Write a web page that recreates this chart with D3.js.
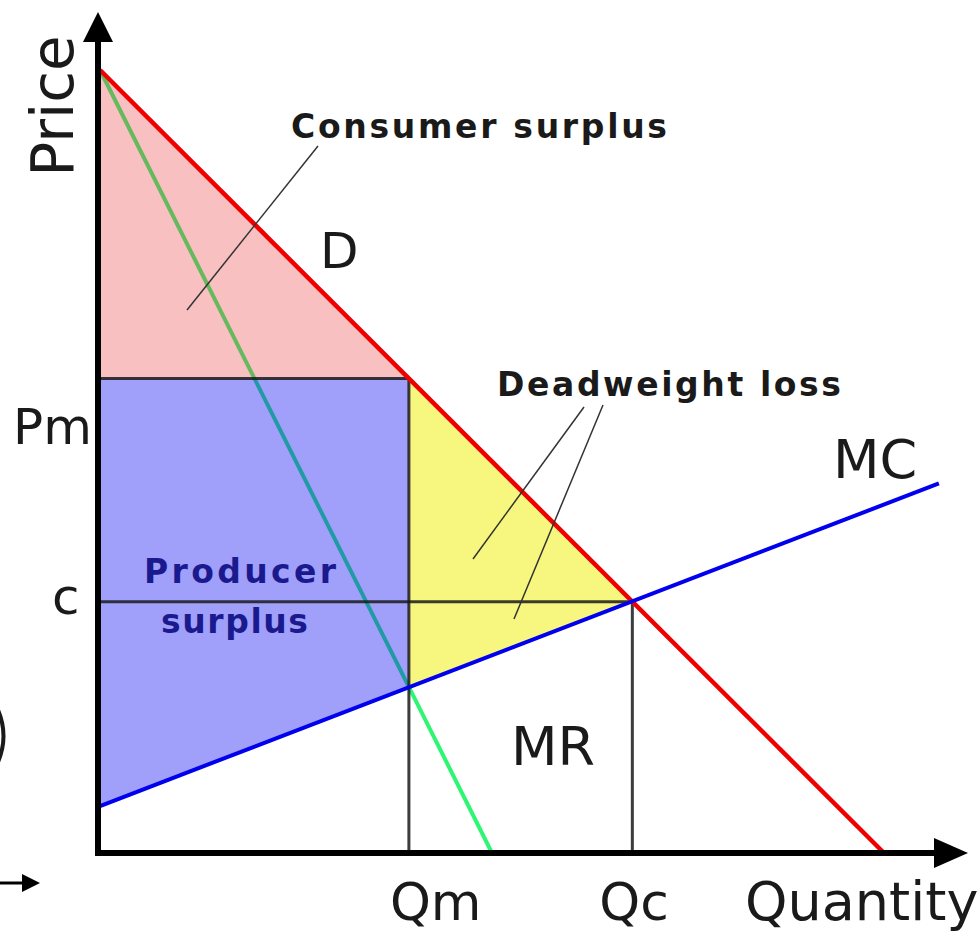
<!DOCTYPE html>
<html>
<head>
<meta charset="utf-8">
<script src="https://cdn.jsdelivr.net/npm/d3@7"></script>
<style>
  html, body { margin: 0; padding: 0; background: #fff; overflow: hidden; }
  svg { display: block; }
  text { font-family: "DejaVu Sans", Verdana, sans-serif; fill: #1a1a1a; }
</style>
</head>
<body>
<div id="chart"></div>
<script>
// curves as [quantity, price] end points
var demand = [[0, 10], [10, 0]];
var marginalRevenue = [[0, 10], [5, 0]];
var marginalCost = [[0, 0.6], [10.7, 4.72]];

// equilibrium values
var qm = 3.94, qc = 6.79;
var pm = 6.06, pc = 3.21;
var mcAtQm = 2.12;

var consumerSurplus = [[0, 10], [qm, pm], [0, pm]];
var producerSurplus = [[0, pm], [qm, pm], [qm, mcAtQm], [0, 0.6]];
var deadweightLoss = [[qm, pm], [qc, pc], [qm, mcAtQm]];

var width = 978, height = 934;

var svg = d3.select("#chart").append("svg")
  .attr("width", width)
  .attr("height", height);

var x = d3.scaleLinear().domain([0, 10]).range([100, 884]);
var y = d3.scaleLinear().domain([0, 10]).range([853, 70]);

var line = d3.line()
  .x(function(d){ return x(d[0]); })
  .y(function(d){ return y(d[1]); });

function poly(data, color, op){
  svg.append("path")
    .attr("d", line(data) + "Z")
    .attr("fill", color)
    .attr("fill-opacity", op)
    .attr("stroke", "none");
}

function curve(data, color, w){
  svg.append("path")
    .attr("d", line(data))
    .attr("fill", "none")
    .attr("stroke", color)
    .attr("stroke-width", w);
}

// MR goes under the shaded areas so it picks up their tint
curve(marginalRevenue, "#2ef572", 4);

poly(consumerSurplus, "#e82d2d", 0.3);
poly(producerSurplus, "#1111f5", 0.4);
poly(deadweightLoss, "#f0f000", 0.5);

// guide lines at Pm / c and Qm / Qc
var guides = [
  [[0, pm], [qm, pm]],
  [[0, pc], [qc, pc]],
  [[qm, pm], [qm, 0]],
  [[qc, pc], [qc, 0]]
];
guides.forEach(function(g){
  svg.append("path")
    .attr("d", line(g))
    .attr("stroke", "#1a1a1a")
    .attr("stroke-opacity", 0.85)
    .attr("stroke-width", 3)
    .attr("fill", "none");
});

curve(demand, "#ee0000", 4.5);
curve(marginalCost, "#0000ee", 4);

// axes with arrow heads
var ax = x(0) - 2, ay = y(0);
svg.append("line")
  .attr("x1", ax).attr("y1", ay + 3)
  .attr("x2", ax).attr("y2", 40)
  .attr("stroke", "#000").attr("stroke-width", 6);
svg.append("polygon")
  .attr("points", (ax - 15) + ",42 " + ax + ",12 " + (ax + 15) + ",42")
  .attr("fill", "#000");
svg.append("line")
  .attr("x1", ax - 3).attr("y1", ay)
  .attr("x2", 940).attr("y2", ay)
  .attr("stroke", "#000").attr("stroke-width", 6);
svg.append("polygon")
  .attr("points", "934," + (ay - 15) + " 968," + ay + " 934," + (ay + 15))
  .attr("fill", "#000");

// labels
function label(txt, px, py, size, opts){
  opts = opts || {};
  var t = svg.append("text")
    .attr("x", px).attr("y", py)
    .attr("font-size", size)
    .text(txt);
  if(opts.bold) t.attr("font-weight", "bold");
  if(opts.len) t.attr("textLength", opts.len).attr("lengthAdjust", "spacing");
  if(opts.color) t.style("fill", opts.color);
  if(opts.anchor) t.attr("text-anchor", opts.anchor);
  return t;
}

svg.append("text")
  .attr("transform", "translate(73,106) rotate(-90)")
  .attr("text-anchor", "middle")
  .attr("font-size", 58)
  .text("Price");

label("D", 320, 268, 50);
label("Pm", 13, y(pm) + 65, 50);
label("c", 52, y(pc) + 12, 50);
label("MC", 833, 478, 54);
label("MR", 511, 765, 54);
label("Qm", x(qm) - 19, 920, 52);
label("Qc", x(qc) - 33, 920, 52);
label("Quantity", 745, 920, 54);

label("Consumer surplus", 291, 138, 33, {bold: true, len: 376});
label("Deadweight loss", 497, 396, 33, {bold: true, len: 344});
label("Producer", 144, 583, 33, {bold: true, len: 192, color: "#1a1a8e"});
label("surplus", 161, 633, 33, {bold: true, len: 147, color: "#1a1a8e"});

// leader lines from the labels into the areas
var leaders = [
  [318, 146, 187, 310],
  [584, 407, 473, 559],
  [603, 405, 514, 619]
];
leaders.forEach(function(l){
  svg.append("line")
    .attr("x1", l[0]).attr("y1", l[1])
    .attr("x2", l[2]).attr("y2", l[3])
    .attr("stroke", "#333").attr("stroke-width", 1.5);
});

// bits cut off at the left edge of the original
svg.append("path")
  .attr("d", "M-2,710 Q9,736 -2,762")
  .attr("fill", "none")
  .attr("stroke", "#1a1a1a").attr("stroke-width", 4);
svg.append("line")
  .attr("x1", 0).attr("y1", 883).attr("x2", 28).attr("y2", 883)
  .attr("stroke", "#000").attr("stroke-width", 3);
svg.append("polygon")
  .attr("points", "22,874 40,883 22,892")
  .attr("fill", "#000");
</script>
</body>
</html>
